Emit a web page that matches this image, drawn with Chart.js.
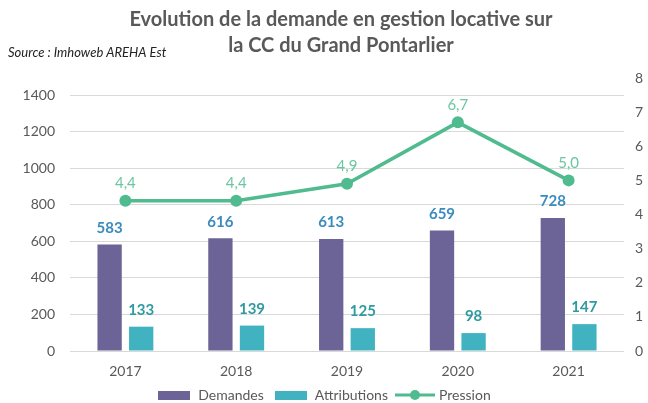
<!DOCTYPE html>
<html>
<head>
<meta charset="utf-8">
<script src="https://cdn.jsdelivr.net/npm/chart.js@4/dist/chart.umd.min.js"></script>
<style>
  html, body { margin: 0; padding: 0; background: #fff; }
  #wrap { width: 648px; height: 403px; }
</style>
</head>
<body>
<div id="wrap"><canvas id="myChart" width="648" height="403"></canvas></div>
<script>
"use strict"
let annees = ["2017", "2018", "2019", "2020", "2021"];
let demandes = [583, 616, 613, 659, 728];
let attributions = [133, 139, 125, 98, 147];
let pression = [4.4, 4.4, 4.9, 6.7, 5.0];
let ticksGauche = [0, 200, 400, 600, 800, 1000, 1200, 1400];
let ticksDroite = [0, 1, 2, 3, 4, 5, 6, 7, 8];
let titre = ["Evolution de la demande en gestion locative sur", "la CC du Grand Pontarlier"];

const VIOLET = "#6c6496";
const TURQUOISE = "#41b3c0";
const VERT = "#4fbb8e";
const POLICE = "Lato, 'Open Sans', sans-serif";

// petits dessins pour la legende
function carreLegende(couleur) {
    let c = document.createElement("canvas");
    c.width = 32;
    c.height = 9;
    let ctx = c.getContext("2d");
    ctx.fillStyle = couleur;
    ctx.fillRect(0, 0, 32, 9);
    return c;
}

function ligneLegende(couleur) {
    let c = document.createElement("canvas");
    c.width = 40;
    c.height = 12;
    let ctx = c.getContext("2d");
    ctx.strokeStyle = couleur;
    ctx.lineWidth = 3;
    ctx.beginPath();
    ctx.moveTo(0, 6);
    ctx.lineTo(40, 6);
    ctx.stroke();
    ctx.fillStyle = couleur;
    ctx.beginPath();
    ctx.arc(20, 6, 5, 0, Math.PI * 2);
    ctx.fill();
    return c;
}

// etiquettes de valeurs au-dessus des barres et des points
const etiquettes = {
    id: "etiquettes",
    afterDatasetsDraw(chart) {
        let ctx = chart.ctx;
        ctx.save();
        ctx.textAlign = "center";
        ctx.textBaseline = "bottom";
        chart.data.datasets.forEach(function (ds, i) {
            let meta = chart.getDatasetMeta(i);
            meta.data.forEach(function (el, j) {
                let val = ds.data[j];
                if (ds.type === "line") {
                    ctx.font = "15px " + POLICE;
                    ctx.fillStyle = "#6cc6a2";
                    ctx.fillText(val.toFixed(1).replace(".", ","), el.x, el.y - 10);
                } else {
                    ctx.font = "bold 15px " + POLICE;
                    ctx.fillStyle = ds.couleurEtiquette;
                    ctx.fillText(String(val), el.x, el.y - 9);
                }
            });
        });
        ctx.restore();
    }
};

// titre sur deux lignes et mention de la source
const entete = {
    id: "entete",
    afterDraw(chart) {
        let ctx = chart.ctx;
        ctx.save();
        ctx.font = "bold 20px " + POLICE;
        ctx.fillStyle = "#595959";
        ctx.textAlign = "center";
        ctx.textBaseline = "middle";
        ctx.fillText(titre[0], 341, 20);
        ctx.fillText(titre[1], 341, 46);
        ctx.font = "italic 13px " + POLICE;
        ctx.fillStyle = "#222";
        ctx.textAlign = "left";
        ctx.fillText("Source : Imhoweb AREHA Est", 8, 53);
        ctx.restore();
    }
};

function brut(v) { return String(v); }

let ctx = document.getElementById("myChart").getContext("2d");
let myChart = new Chart(ctx, {
    data: {
        labels: annees,
        datasets: [
            {
                type: "line",
                label: "Pression",
                data: pression,
                yAxisID: "y2",
                borderColor: VERT,
                backgroundColor: VERT,
                borderWidth: 3.5,
                pointRadius: 6,
                pointBackgroundColor: VERT,
                pointBorderWidth: 0,
                tension: 0,
                order: 0
            },
            {
                type: "bar",
                label: "Demandes",
                data: demandes,
                yAxisID: "y",
                backgroundColor: VIOLET,
                couleurEtiquette: "#3a8cc0",
                categoryPercentage: 0.57,
                barPercentage: 0.77,
                order: 1
            },
            {
                type: "bar",
                label: "Attributions",
                data: attributions,
                yAxisID: "y",
                backgroundColor: TURQUOISE,
                couleurEtiquette: "#2f9aa0",
                categoryPercentage: 0.57,
                barPercentage: 0.77,
                order: 2
            }
        ]
    },
    options: {
        responsive: false,
        animation: false,
        layout: { padding: { left: 0, right: 0, top: 78, bottom: -9 } },
        plugins: {
            title: { display: false },
            legend: {
                position: "bottom",
                labels: {
                    usePointStyle: true,
                    pointStyleWidth: 34,
                    color: "#595959",
                    font: { family: POLICE, size: 14 },
                    padding: 10,
                    sort: function (a, b) {
                        let ordre = ["Demandes", "Attributions", "Pression"];
                        return ordre.indexOf(a.text) - ordre.indexOf(b.text);
                    },
                    generateLabels: function (chart) {
                        let items = Chart.defaults.plugins.legend.labels.generateLabels(chart);
                        items.forEach(function (it) {
                            if (it.text === "Pression") it.pointStyle = ligneLegende(VERT);
                            else if (it.text === "Demandes") it.pointStyle = carreLegende(VIOLET);
                            else it.pointStyle = carreLegende(TURQUOISE);
                        });
                        return items;
                    }
                }
            },
            tooltip: { enabled: false }
        },
        scales: {
            x: {
                offset: true,
                grid: { display: false, drawTicks: false },
                border: { display: false },
                ticks: {
                    color: "#595959",
                    font: { family: POLICE, size: 14 },
                    padding: 12
                },
                afterFit: function (s) { s.height = 27; }
            },
            y: {
                position: "left",
                min: 0,
                max: 1493,
                border: { display: false },
                grid: { color: "#d9d9d9", lineWidth: 1, drawTicks: false },
                ticks: {
                    stepSize: 200,
                    color: "#595959",
                    font: { family: POLICE, size: 14 },
                    padding: 15,
                    callback: brut
                },
                afterBuildTicks: function (s) {
                    s.ticks = ticksGauche.map(function (v) { return { value: v }; });
                },
                afterFit: function (s) { s.width = 70; }
            },
            y2: {
                position: "right",
                min: 0,
                max: 8,
                border: { display: false },
                grid: { display: false, drawTicks: false },
                ticks: {
                    stepSize: 1,
                    color: "#595959",
                    font: { family: POLICE, size: 14 },
                    padding: 11,
                    callback: brut
                },
                afterBuildTicks: function (s) {
                    s.ticks = ticksDroite.map(function (v) { return { value: v }; });
                },
                afterFit: function (s) { s.width = 24; }
            }
        }
    },
    plugins: [etiquettes, entete]
});
</script>
</body>
</html>
